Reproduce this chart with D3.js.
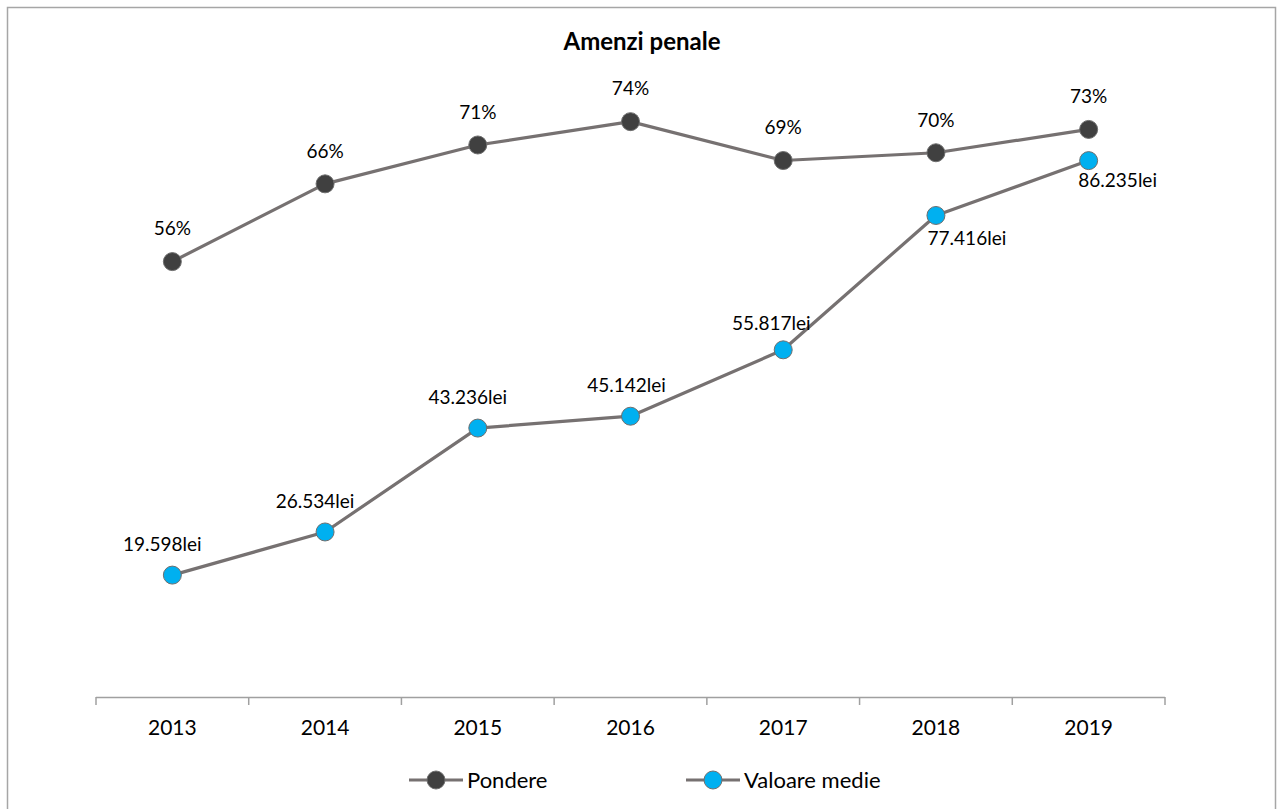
<!DOCTYPE html>
<html>
<head>
<meta charset="utf-8">
<script src="https://cdn.jsdelivr.net/npm/d3@7"></script>
<style>
  html, body { margin: 0; padding: 0; background: #fff; }
  svg text { font-family: Lato, "Noto Sans", sans-serif; fill: #000; }
</style>
</head>
<body>
<div id="chart"></div>
<script>
// chart values
const years = ["2013", "2014", "2015", "2016", "2017", "2018", "2019"];
const pondere = [0.56, 0.66, 0.71, 0.74, 0.69, 0.70, 0.73];
const valoareMedie = [19598, 26534, 43236, 45142, 55817, 77416, 86235];
const seriesNames = ["Pondere", "Valoare medie"];

// label placement (offset of label centre from point)
const pondereLabelDy = -33;
const valoareLabelDx = [-10, -10, -10, -4, -12, 31, 29];
const valoareLabelDy = [-31, -31, -31, -31, -27, 23, 20];

const width = 1279, height = 809;
const lineColor = "#767171";
const pondereFill = "#404040";
const valoareFill = "#00b0f0";

const svg = d3.select("#chart").append("svg")
  .attr("width", width)
  .attr("height", height);

// chart border, runs off the bottom of the page
svg.append("rect")
  .attr("x", 7.5).attr("y", 7.5)
  .attr("width", 1268).attr("height", 830)
  .attr("fill", "none")
  .attr("stroke", "#a6a6a6")
  .attr("stroke-width", 1.5);

svg.append("text")
  .attr("x", 642).attr("y", 50)
  .attr("text-anchor", "middle")
  .style("font-size", "24px")
  .style("font-weight", "bold")
  .text("Amenzi penale");

const x = d3.scaleBand().domain(years).range([96, 1165]);
const yP = d3.scaleLinear().domain([0, 0.8]).range([697, 75]);
const yV = d3.scaleLinear().domain([0, 100000]).range([697, 75]);
const cx = d => x(d) + x.bandwidth() / 2;

const ro = d3.formatLocale({decimal: ",", thousands: ".", grouping: [3], currency: ["", "lei"]});
const fmtLei = v => ro.format(",")(v) + "lei";
const fmtPct = d3.format(".0%");

// category axis
const axisG = svg.append("g").attr("transform", "translate(0,697)");
axisG.call(d3.axisBottom(x).tickSize(0).tickPadding(0))
  .call(g => g.select(".domain").remove());
axisG.selectAll(".tick text")
  .attr("y", 38)
  .attr("dy", null)
  .style("font-size", "21px")
  .style("font-family", "Lato, sans-serif")
  .attr("fill", "#000");
axisG.append("line")
  .attr("x1", x.range()[0]).attr("x2", x.range()[1])
  .attr("y1", 0.5).attr("y2", 0.5)
  .attr("stroke", "#a0a0a0").attr("stroke-width", 1.5);
axisG.selectAll(".bound")
  .data(years.concat(["end"]))
  .enter().append("line")
  .attr("class", "bound")
  .attr("x1", (d, i) => i < years.length ? x(d) : x.range()[1])
  .attr("x2", (d, i) => i < years.length ? x(d) : x.range()[1])
  .attr("y1", 0).attr("y2", 8)
  .attr("stroke", "#a0a0a0").attr("stroke-width", 1.5);

function drawSeries(values, yScale, fill) {
  const line = d3.line()
    .x((d, i) => cx(years[i]))
    .y(d => yScale(d));
  svg.append("path")
    .datum(values)
    .attr("d", line)
    .attr("fill", "none")
    .attr("stroke", lineColor)
    .attr("stroke-width", 3.2)
    .attr("stroke-linejoin", "round");
  svg.append("g").selectAll("circle")
    .data(values)
    .enter().append("circle")
    .attr("cx", (d, i) => cx(years[i]))
    .attr("cy", d => yScale(d))
    .attr("r", 9)
    .attr("fill", fill)
    .attr("stroke", "#6e6e6e")
    .attr("stroke-width", 1);
}

drawSeries(pondere, yP, pondereFill);
drawSeries(valoareMedie, yV, valoareFill);

svg.append("g").selectAll("text")
  .data(pondere)
  .enter().append("text")
  .attr("x", (d, i) => cx(years[i]))
  .attr("y", d => yP(d) + pondereLabelDy)
  .attr("dy", "0.36em")
  .attr("text-anchor", "middle")
  .style("font-size", "19px")
  .text(d => fmtPct(d));

svg.append("g").selectAll("text")
  .data(valoareMedie)
  .enter().append("text")
  .attr("x", (d, i) => cx(years[i]) + valoareLabelDx[i])
  .attr("y", (d, i) => yV(d) + valoareLabelDy[i])
  .attr("dy", "0.36em")
  .attr("text-anchor", "middle")
  .style("font-size", "19px")
  .text(d => fmtLei(d));

// legend
const legendX = [409, 686];
const legendFill = [pondereFill, valoareFill];
const leg = svg.append("g").selectAll("g")
  .data(seriesNames)
  .enter().append("g")
  .attr("transform", (d, i) => `translate(${legendX[i]},780)`);
leg.append("line")
  .attr("x1", 0).attr("x2", 54)
  .attr("stroke", lineColor).attr("stroke-width", 3.2);
leg.append("circle")
  .attr("cx", 27).attr("r", 9)
  .attr("fill", (d, i) => legendFill[i])
  .attr("stroke", "#6e6e6e").attr("stroke-width", 1);
leg.append("text")
  .attr("x", 58)
  .attr("dy", "0.36em")
  .style("font-size", "22px")
  .text(d => d);
</script>
</body>
</html>
